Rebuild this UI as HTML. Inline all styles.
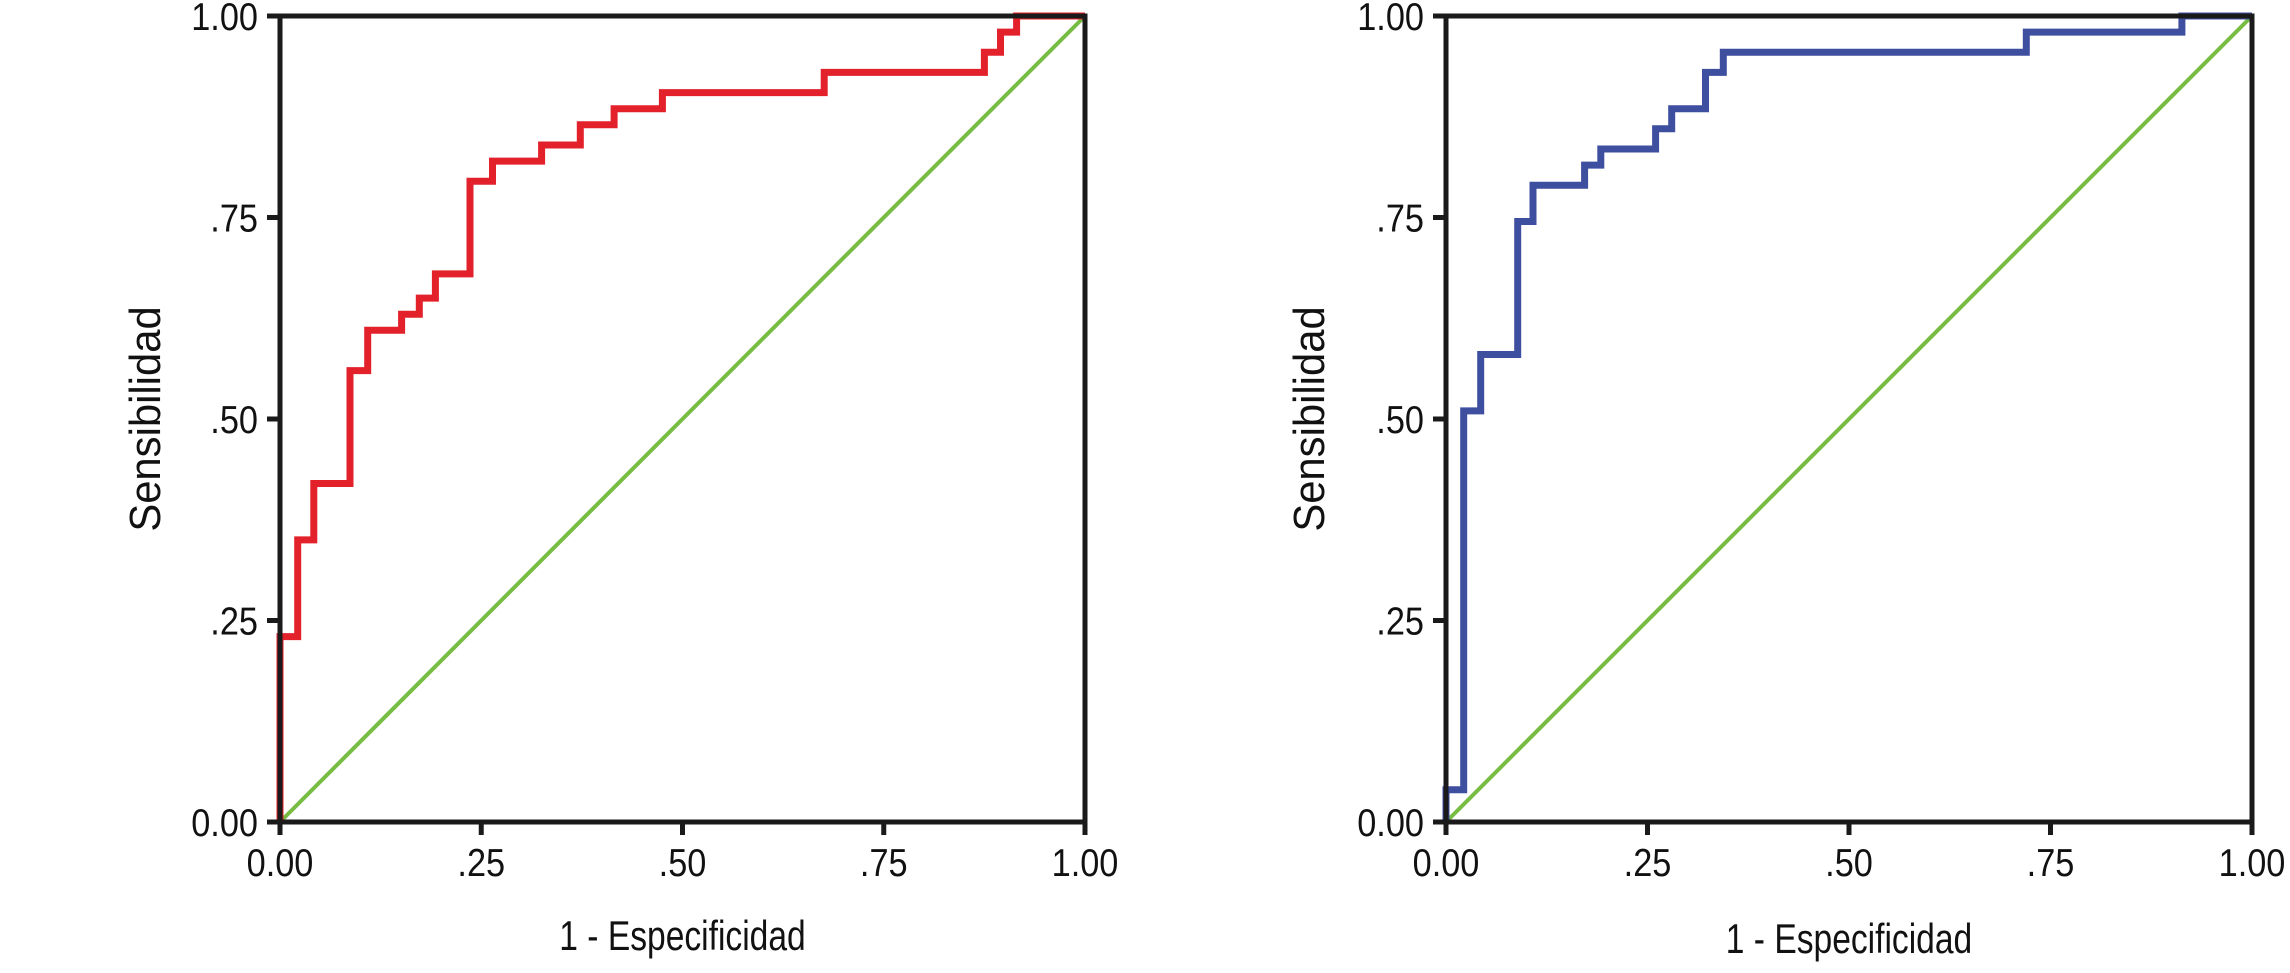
<!DOCTYPE html>
<html><head><meta charset="utf-8"><style>
html,body{margin:0;padding:0;background:#fff;}
svg{display:block;}
text{font-family:"Liberation Sans",Arial,sans-serif;fill:#111;}
</style></head><body>
<svg id="chart" width="2290" height="973" viewBox="0 0 2290 973" xmlns="http://www.w3.org/2000/svg"></svg>
<script>
const tickValues = [0, 0.25, 0.5, 0.75, 1];
const tickLabels = ["0.00", ".25", ".50", ".75", "1.00"];
const redFpr = [0, 0, 0.022, 0.022, 0.042, 0.042, 0.087, 0.087, 0.109, 0.109, 0.151, 0.151, 0.173, 0.173, 0.193, 0.193, 0.236, 0.236, 0.264, 0.264, 0.325, 0.325, 0.373, 0.373, 0.415, 0.415, 0.475, 0.475, 0.676, 0.676, 0.875, 0.875, 0.895, 0.895, 0.915, 0.915, 1];
const redTpr = [0, 0.23, 0.23, 0.35, 0.35, 0.42, 0.42, 0.56, 0.56, 0.61, 0.61, 0.63, 0.63, 0.65, 0.65, 0.68, 0.68, 0.795, 0.795, 0.82, 0.82, 0.84, 0.84, 0.865, 0.865, 0.885, 0.885, 0.905, 0.905, 0.93, 0.93, 0.955, 0.955, 0.98, 0.98, 1, 1];
const blueFpr = [0, 0, 0.022, 0.022, 0.043, 0.043, 0.089, 0.089, 0.108, 0.108, 0.172, 0.172, 0.192, 0.192, 0.26, 0.26, 0.28, 0.28, 0.322, 0.322, 0.344, 0.344, 0.72, 0.72, 0.913, 0.913, 1];
const blueTpr = [0, 0.04, 0.04, 0.51, 0.51, 0.58, 0.58, 0.745, 0.745, 0.79, 0.79, 0.815, 0.815, 0.835, 0.835, 0.86, 0.86, 0.885, 0.885, 0.93, 0.93, 0.955, 0.955, 0.98, 0.98, 1, 1];
const refLine = [0, 1];

const NS = "http://www.w3.org/2000/svg";
const svg = document.getElementById("chart");
function mk(tag, attrs, parent){const e=document.createElementNS(NS,tag);for(const k in attrs)e.setAttribute(k,attrs[k]);(parent||svg).appendChild(e);return e;}

function panel(x0, x1, y0, y1, fpr, tpr, color, titleX, titleXY, prefix){
  const sx = v => x0 + v*(x1-x0);
  const sy = v => y0 - v*(y0-y1);
  const g = mk("g",{});
  
  
  const d = mk("line",{x1:sx(refLine[0]),y1:sy(refLine[0]),x2:sx(refLine[1]),y2:sy(refLine[1]),stroke:"#77bc43","stroke-width":4},g);
  
  
  let p = "";
  for(let i=0;i<fpr.length;i++) p += (i?"L":"M")+sx(fpr[i]).toFixed(1)+" "+sy(tpr[i]).toFixed(1)+" ";
  const c = mk("path",{d:p,fill:"none",stroke:color,"stroke-width":7,"stroke-linejoin":"miter"},g);
  
  
  const f = mk("rect",{x:x0,y:y1,width:x1-x0,height:y0-y1,fill:"none",stroke:"#1a1a1a","stroke-width":5},g);
  
  
  tickValues.forEach((v,i)=>{
    const ty = sy(v), tx = sx(v);
    const t1 = mk("line",{x1:x0-13,y1:ty,x2:x0,y2:ty,stroke:"#1a1a1a","stroke-width":5},g);
    
    
    const l1 = mk("text",{x:0,y:0,"font-size":39,"text-anchor":"end",transform:"translate("+(x0-22)+","+(ty+14)+") scale(0.88,1)"},g);
    l1.textContent = tickLabels[i];
    
    
    const t2 = mk("line",{x1:tx,y1:y0,x2:tx,y2:y0+13,stroke:"#1a1a1a","stroke-width":5},g);
    
    
    const l2 = mk("text",{x:0,y:0,"font-size":39,"text-anchor":"middle",transform:"translate("+tx+","+(y0+54)+") scale(0.88,1)"},g);
    l2.textContent = tickLabels[i];
    
    
  });
  const yt = mk("text",{x:0,y:0,"font-size":44,"text-anchor":"middle",transform:"translate("+titleX+","+((y0+y1)/2)+") rotate(-90) scale(0.95,1)"},g);
  yt.textContent = "Sensibilidad";
  
  
  const xt = mk("text",{x:0,y:0,"font-size":42,"text-anchor":"middle",transform:"translate("+((x0+x1)/2)+","+titleXY+") scale(0.8,1)"},g);
  xt.textContent = "1 - Especificidad";
  
  
}
panel(280, 1085, 822, 16, redFpr, redTpr, "#e3212b", 160, 950, "left");
panel(1446, 2252, 822, 16, blueFpr, blueTpr, "#3f4fa0", 1324, 953, "right");
</script>
</body></html>
